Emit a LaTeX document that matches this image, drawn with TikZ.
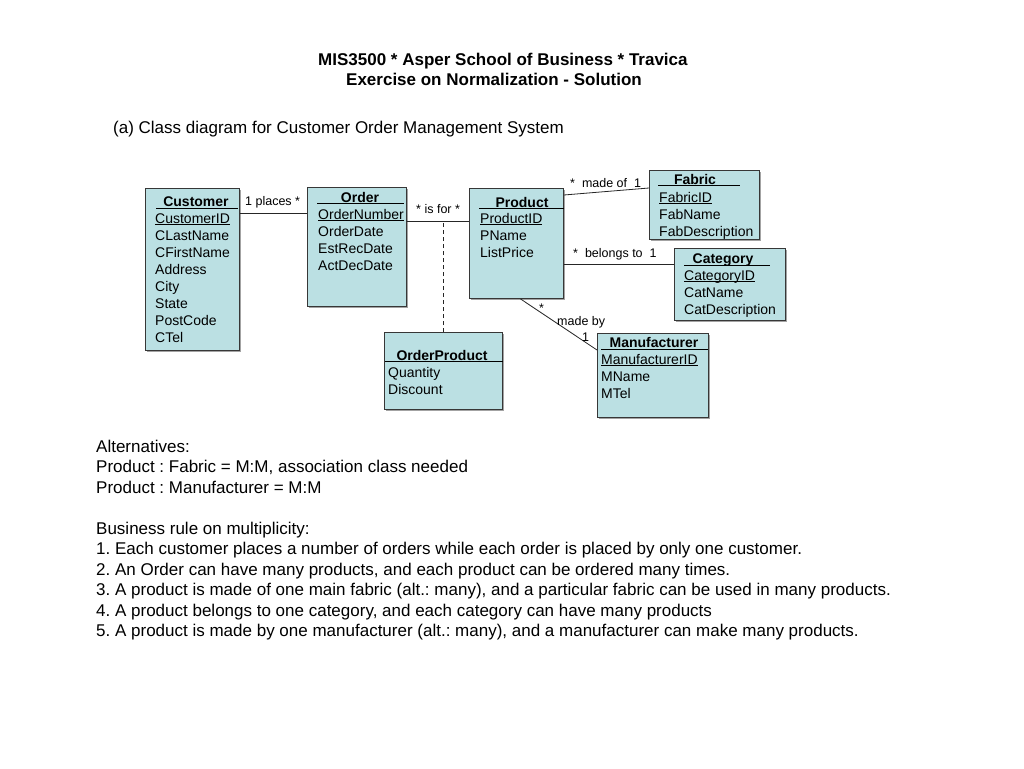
\documentclass[tikz,border=0pt]{standalone}
\usepackage{fontspec}
\setmainfont{Liberation Sans}
\frenchspacing
\usetikzlibrary{shadows,calc}
\definecolor{clsfill}{RGB}{187,224,227}
\definecolor{clsdraw}{RGB}{55,55,55}
\definecolor{shadowgray}{RGB}{140,140,140}
\newcommand{\ulx}[1]{\setbox0\hbox{#1}\rlap{\rule[-1.7pt]{\wd0}{0.8pt}}\box0}
\tikzset{
  cls/.style={draw=clsdraw, fill=clsfill, line width=0.9pt, anchor=north west, inner sep=0pt,
    drop shadow={shadow xshift=1.4pt, shadow yshift=-1.4pt, fill=shadowgray, opacity=0.8}},
  attr/.style={inner sep=0pt, anchor=base west, font=\fontsize{14}{17}\selectfont},
  ctitle/.style={inner sep=0pt, anchor=base, font=\fontsize{14}{17}\selectfont\bfseries},
  tline/.style={line width=0.9pt, draw=black},
  assoc/.style={line width=0.8pt, draw=black!85},
  lbl/.style={inner sep=0pt, anchor=base west, font=\fontsize{12.5}{15}\selectfont},
  body/.style={inner sep=0pt, anchor=base west, font=\fontsize{17}{20.5}\selectfont},
  head/.style={inner sep=0pt, anchor=base west, font=\fontsize{17}{20.5}\selectfont\bfseries},
}
\newcommand{\attrlist}[4]{% name, x, first baseline y, list
  \foreach \t [count=\i from 0] in {#4} \node[attr] (#1-\i) at (#2, #3+17*\i) {\t};}
\begin{document}
\begin{tikzpicture}[x=1pt,y=-1pt]
\useasboundingbox (0,0) rectangle (1024,768);
\fill[white] (0,0) rectangle (1024,768);

% headings
\node[head] (h1) at (318,65) {MIS3500 * Asper School of Business * Travica};
\node[head] (h2) at (346,85) {Exercise on Normalization - Solution};
\node[body] (h3) at (113,133) {(a) Class diagram for Customer Order Management System};

% class boxes
\node[cls, minimum width=94pt, minimum height=162pt] (cust) at (145,188) {};
\node[cls, minimum width=99pt, minimum height=119pt] (ord) at (307,187) {};
\node[cls, minimum width=94pt, minimum height=110pt] (prod) at (469,188) {};
\node[cls, minimum width=110pt, minimum height=69pt] (fab) at (649,170) {};
\node[cls, minimum width=111pt, minimum height=72pt] (cat) at (674,248) {};
\node[cls, minimum width=111pt, minimum height=84pt] (man) at (597,333) {};
\node[cls, minimum width=118pt, minimum height=77pt] (op) at (384,332) {};

% titles
\node[ctitle] (cust-t) at (196,206) {Customer};
\draw[tline] ($(cust.north west)+(11,20.5)$) -- ($(cust.north east)+(-2,20.5)$);
\node[ctitle] (ord-t) at (360,202) {Order};
\draw[tline] ($(ord.north west)+(10,16)$) -- ($(ord.north east)+(-3,16)$);
\node[ctitle] (prod-t) at (522,207) {Product};
\draw[tline] ($(prod.north west)+(10,20.5)$) -- ($(prod.north east)+(0,20.5)$);
\node[ctitle] (fab-t) at (695,184) {Fabric};
\draw[tline] ($(fab.north west)+(9,15.5)$) -- ($(fab.north west)+(91,15.5)$);
\node[ctitle] (cat-t) at (723,263) {Category};
\draw[tline] ($(cat.north west)+(10,17)$) -- ($(cat.north west)+(96,17)$);
\node[ctitle] (man-t) at (654,347) {Manufacturer};
\draw[tline] ($(man.north west)+(4,16)$) -- ($(man.north east)+(-1,16)$);
\node[ctitle] (op-t) at (442,360) {OrderProduct};
\draw[tline] ($(op.north west)+(1,29)$) -- ($(op.north east)+(0,29)$);

% attributes
\attrlist{ca}{155}{223}{\ulx{CustomerID},CLastName,CFirstName,Address,City,State,PostCode,CTel}
\attrlist{oa}{318}{219}{\ulx{OrderNumber},OrderDate,EstRecDate,ActDecDate}
\attrlist{pa}{480}{223}{\ulx{ProductID},PName,ListPrice}
\attrlist{fa}{659}{202}{\ulx{FabricID},FabName,FabDescription}
\attrlist{ka}{684}{280}{\ulx{CategoryID},CatName,CatDescription}
\attrlist{ma}{601}{364}{\ulx{ManufacturerID},MName,MTel}
\attrlist{qa}{388}{377}{Quantity,Discount}

% associations
\coordinate (co) at ($(ord.north west)+(0,26)$);
\draw[assoc] (cust.east |- co) -- (co);
\node[lbl] (l1) at (245,205) {1 places *};

\coordinate (cp) at ($(prod.north west)+(0,33)$);
\draw[assoc] (ord.east |- cp) -- (cp);
\node[lbl] (l2) at (416,213) {* is for *};

\draw[assoc, dash pattern=on 4pt off 3pt] (op.north) -- (op.north |- cp);

\draw[assoc] ($(prod.north east)+(0,7)$) -- ($(fab.north west)+(0,18)$);
\node[lbl] (l3) at (570,187) {*\ \ made of\ \ 1};

\coordinate (ck) at ($(cat.north west)+(0,16)$);
\draw[assoc] (prod.east |- ck) -- (ck);
\node[lbl] (l4) at (573,257) {*\ \ belongs to\ \ 1};

\draw[assoc] ($(prod.south)+(4,0)$) -- ($(man.north west)+(0,17)$);
\node[lbl] (l5) at (539,312) {*};
\node[lbl] (l6) at (557,325) {made by};
\node[lbl] (l7) at (582,341) {1};

% text below
\node[body] (b1) at (96,452) {Alternatives:};
\node[body] (b2) at (96,472.5) {Product : Fabric = M:M, association class needed};
\node[body] (b3) at (96,493) {Product : Manufacturer = M:M};
\node[body] (b4) at (96,534) {Business rule on multiplicity:};
\node[body] (b5) at (96,554.5) {1. Each customer places a number of orders while each order is placed by only one customer.};
\node[body] (b6) at (96,575) {2. An Order can have many products, and each product can be ordered many times.};
\node[body] (b7) at (96,595.5) {3. A product is made of one main fabric (alt.: many), and a particular fabric can be used in many products.};
\node[body] (b8) at (96,616) {4. A product belongs to one category, and each category can have many products};
\node[body] (b9) at (96,636.5) {5. A product is made by one manufacturer (alt.: many), and a manufacturer can make many products.};
\end{tikzpicture}
\end{document}
